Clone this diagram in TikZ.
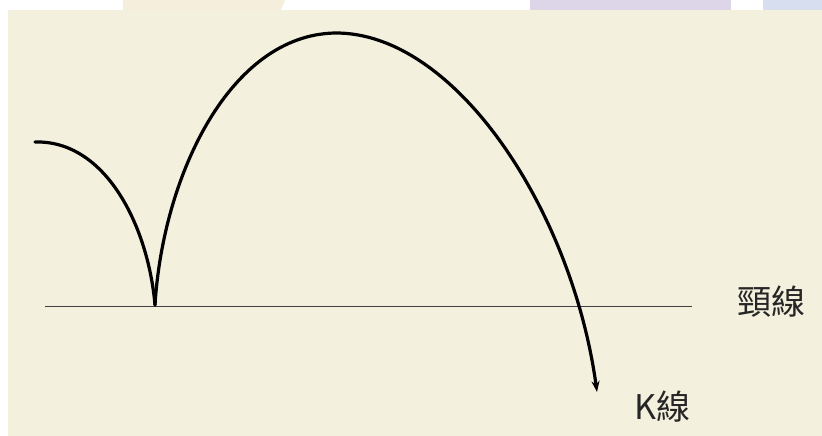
\documentclass[tikz,border=0pt]{standalone}
\usepackage{fontspec}
\newfontfamily\cjk{Noto Sans CJK TC}
\usetikzlibrary{arrows.meta}
\definecolor{paper}{RGB}{244,240,222}
\definecolor{tabbeige}{RGB}{246,238,220}
\definecolor{tablav}{RGB}{221,214,232}
\definecolor{tabblue}{RGB}{214,222,240}
\tikzset{
  curve/.style={line width=3.2pt, black, line cap=round},
  neck/.style={line width=0.9pt, black!75},
  lbl/.style={font=\cjk\fontsize{34}{34}\selectfont, text=black!85, inner sep=0pt}
}
\begin{document}
\begin{tikzpicture}[x=1pt,y=-1pt]
\useasboundingbox (0,0) rectangle (822,436);
\fill[white] (0,0) rectangle (822,436);
\fill[tabbeige] (123,0) -- (285,0) -- (281,10) -- (123,10) -- cycle;
\fill[tablav] (530,0) rectangle (731,10);
\fill[tabblue] (763,0) rectangle (822,10);
\fill[paper] (8,10) rectangle (822,436);
% neckline
\coordinate (nl) at (45,306);
\coordinate (nr) at (692,306);
\draw[neck] (nl) -- (nr);
% curves
\coordinate (s) at (35,142);
\coordinate (cusp) at (155,305);
\coordinate (peak) at (335,33);
\coordinate (e) at (597,392);
\draw[curve] (s) .. controls (105,140) and (148,225) .. (cusp);
\draw[curve, -{Stealth[length=11pt,width=8pt]}] (cusp) .. controls (163,175) and (230,35) .. (peak)
  .. controls (455,32) and (572,210) .. (e);
\node[lbl, anchor=west] (neck) at (737,302) {頸線};
\node[lbl, anchor=west] (k) at (634,407) {K線};
\end{tikzpicture}
\end{document}
